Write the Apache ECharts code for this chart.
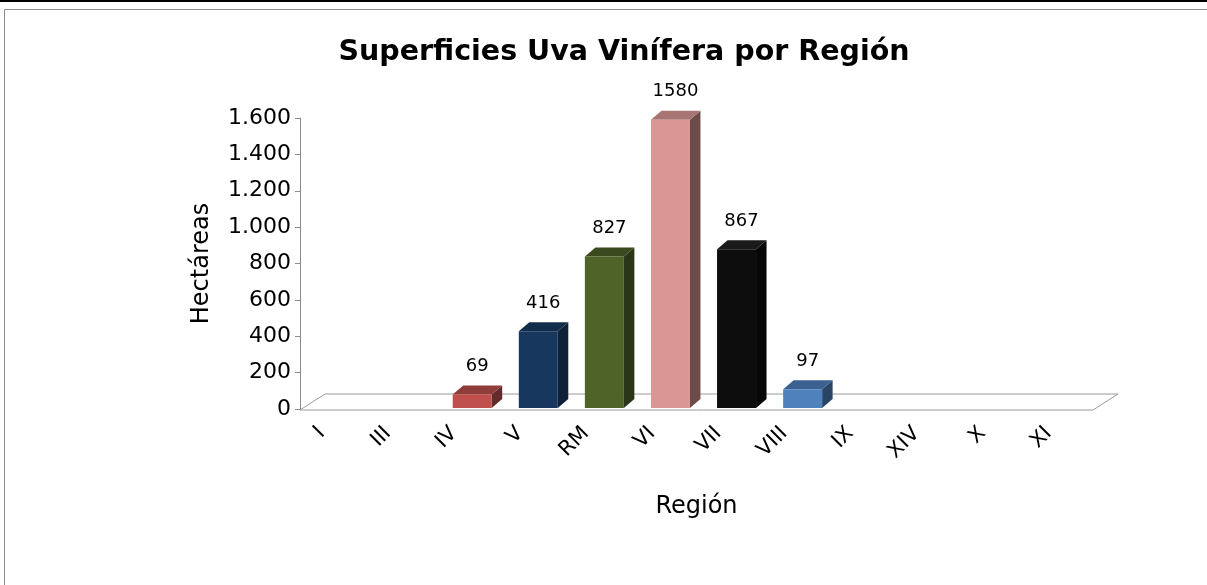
<!DOCTYPE html>
<html>
<head>
<meta charset="utf-8">
<script src="https://cdn.jsdelivr.net/npm/echarts@6/dist/echarts.min.js"></script>
<style>
  html, body { margin: 0; padding: 0; background: #fff; }
  #chart { width: 1207px; height: 585px; }
</style>
</head>
<body>
<div id="chart"></div>
<script>
const regions = ['I', 'III', 'IV', 'V', 'RM', 'VI', 'VII', 'VIII', 'IX', 'XIV', 'X', 'XI']
const hectares = [0, 0, 69, 416, 827, 1580, 867, 97, 0, 0, 0, 0]
const yTicks = [0, 200, 400, 600, 800, 1000, 1200, 1400, 1600]

// front / top / side colours per bar
const frontColors = ['#c0504d', '#c0504d', '#c0504d', '#17375e', '#4f6228', '#d99694', '#0d0d0d', '#4f81bd', '#4f81bd', '#4f81bd', '#4f81bd', '#4f81bd']
const topColors = ['#8f3c3a', '#8f3c3a', '#8f3c3a', '#122c4b', '#3b4a1e', '#a87574', '#1a1a1a', '#3b6190', '#3b6190', '#3b6190', '#3b6190', '#3b6190']
const sideColors = ['#632c2b', '#632c2b', '#632c2b', '#0e2138', '#2b3517', '#6c4b4a', '#070707', '#2a4466', '#2a4466', '#2a4466', '#2a4466', '#2a4466']

const fontFamily = 'DejaVu Sans'
const depthX = 10.5
const depthY = -9
const barShift = 7

const fmt = v => String(v).replace(/\B(?=(\d{3})+(?!\d))/g, '.')

const chart = echarts.init(document.getElementById('chart'))

const option = {
  animation: false,
  backgroundColor: '#fff',
  title: {
    text: 'Superficies Uva Vinífera por Región',
    left: 619,
    top: 33,
    textAlign: 'center',
    textStyle: { fontFamily: fontFamily, fontSize: 28.5, fontWeight: 'bold', color: '#000' }
  },
  graphic: [
    { type: 'line', shape: { x1: 0, y1: 1, x2: 1207, y2: 1 }, style: { stroke: '#000', lineWidth: 2 } },
    { type: 'rect', shape: { x: 4.5, y: 9.5, width: 1220, height: 600 }, style: { fill: 'none', stroke: '#8c8c8c', lineWidth: 1 } }
  ],
  grid: { left: 300, right: 114, top: 118, bottom: 176 },
  xAxis: {
    type: 'category',
    data: regions,
    name: 'Región',
    nameLocation: 'middle',
    nameGap: 86,
    nameTextStyle: { fontFamily: fontFamily, fontSize: 24, color: '#000' },
    axisLine: { show: false },
    axisTick: { show: false },
    axisLabel: {
      interval: 0,
      rotate: 45,
      margin: 10,
      padding: [0, 16, 0, 0],
      fontFamily: fontFamily,
      fontSize: 21,
      color: '#000'
    }
  },
  yAxis: {
    type: 'value',
    min: yTicks[0],
    max: yTicks[yTicks.length - 1],
    interval: 200,
    name: 'Hectáreas',
    nameLocation: 'middle',
    nameGap: 86,
    nameTextStyle: { fontFamily: fontFamily, fontSize: 24, color: '#000' },
    axisLine: { show: true, lineStyle: { color: '#8c8c8c', width: 1 } },
    axisTick: { show: true, length: 5, lineStyle: { color: '#8c8c8c' } },
    splitLine: { show: false },
    axisLabel: {
      margin: 9,
      fontFamily: fontFamily,
      fontSize: 22,
      color: '#000',
      formatter: fmt
    }
  },
  series: [
    {
      // floor of the 3D plot
      type: 'custom',
      z: 1,
      silent: true,
      data: [[0, 0]],
      renderItem: function (params) {
        const cs = params.coordSys
        const yb = cs.y + cs.height + 1
        return {
          type: 'polygon',
          shape: {
            points: [
              [cs.x, yb],
              [cs.x + cs.width, yb],
              [cs.x + cs.width + 25, yb - 16],
              [cs.x + 25, yb - 16]
            ]
          },
          style: { fill: '#fff', stroke: '#9a9a9a', lineWidth: 1 }
        }
      }
    },
    {
      type: 'custom',
      z: 2,
      data: hectares.map((v, i) => [i, v]),
      renderItem: function (params, api) {
        const idx = api.value(0)
        const val = api.value(1)
        if (!val) return { type: 'group', children: [] }
        const top = api.coord([idx, val])
        const base = api.coord([idx, 0])
        const band = api.size([1, 0])[0]
        const w = band * 0.59
        const cx = top[0] + barShift
        const x0 = cx - w / 2
        const x1 = cx + w / 2
        const yt = top[1] - 2
        const yb = base[1] - 1
        return {
          type: 'group',
          children: [
            {
              type: 'polygon',
              shape: { points: [[x1, yb], [x1 + depthX, yb + depthY], [x1 + depthX, yt + depthY], [x1, yt]] },
              style: { fill: sideColors[idx] }
            },
            {
              type: 'polygon',
              shape: { points: [[x0, yt], [x1, yt], [x1 + depthX, yt + depthY], [x0 + depthX, yt + depthY]] },
              style: { fill: topColors[idx] }
            },
            {
              type: 'rect',
              shape: { x: x0, y: yt, width: w, height: yb - yt },
              style: { fill: frontColors[idx] }
            },
            {
              type: 'text',
              style: {
                text: String(val),
                x: cx + 5,
                y: yt - 28,
                align: 'center',
                verticalAlign: 'middle',
                fontFamily: fontFamily,
                fontSize: 18,
                fill: '#000'
              }
            }
          ]
        }
      }
    }
  ]
}

chart.setOption(option)
</script>
</body>
</html>
